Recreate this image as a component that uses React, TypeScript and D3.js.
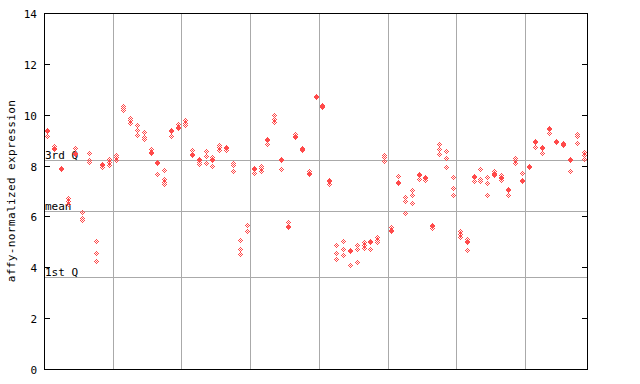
import React from "react";
import * as d3 from "d3";

// per-sample replicate values (affy-normalized expression)
const expression: number[][] = [
  [9.38, 9.35, 9.15], [8.76, 8.70, 8.66], [7.92, 7.88, 7.85], [6.73, 6.62, 6.50], [8.68, 8.50, 8.47],
  [6.16, 5.93, 5.85], [8.48, 8.22, 8.14], [5.02, 4.56, 4.24], [8.06, 8.02, 7.96], [8.27, 8.16, 8.04],
  [8.42, 8.32, 8.22], [10.36, 10.28, 10.19], [9.88, 9.79, 9.69], [9.60, 9.40, 9.21], [9.33, 9.14, 9.03],
  [8.64, 8.52, 8.49], [8.13, 8.10, 7.67], [7.81, 7.47, 7.37, 7.29], [9.39, 9.35, 9.15], [9.62, 9.50, 9.47],
  [9.79, 9.69, 9.58], [8.61, 8.44, 8.41], [8.26, 8.22, 8.14, 8.05], [8.58, 8.36, 8.10], [8.34, 8.26, 8.23, 7.97],
  [8.82, 8.72, 8.62], [8.74, 8.68, 8.62], [8.11, 8.01, 7.77], [5.06, 4.72, 4.52], [5.65, 5.41],
  [7.90, 7.86, 7.72], [7.98, 7.89, 7.80], [9.04, 9.00, 8.84], [9.98, 9.84, 9.70], [8.24, 8.20, 7.85],
  [5.78, 5.62, 5.58], [9.24, 9.15, 9.12], [8.70, 8.66, 8.62], [7.79, 7.72, 7.65], [10.74, 10.72, 10.70],
  [10.40, 10.33, 10.30], [7.42, 7.38, 7.29], [4.88, 4.56, 4.33], [5.02, 4.71, 4.47], [4.69, 4.66, 4.08],
  [4.88, 4.70, 4.21], [4.98, 4.89, 4.75], [5.02, 4.99, 4.71], [5.19, 5.09, 4.98], [8.43, 8.34, 8.17],
  [5.57, 5.47, 5.44], [7.58, 7.36, 7.32], [6.75, 6.59, 6.12], [7.03, 6.86, 6.52], [7.66, 7.62, 7.46],
  [7.56, 7.50, 7.43], [5.65, 5.62, 5.53], [8.85, 8.66, 8.45], [8.56, 8.30, 7.96], [7.54, 7.12, 6.83],
  [5.41, 5.31, 5.18], [5.12, 5.02, 4.99, 4.67], [7.58, 7.54, 7.41], [7.86, 7.48, 7.38], [7.54, 7.30, 6.83],
  [7.80, 7.71, 7.68, 7.62], [7.62, 7.56, 7.52, 7.43], [7.07, 7.03, 6.83], [8.30, 8.22, 8.11], [7.70, 7.43, 7.39],
  [7.98, 7.96, 7.94], [8.97, 8.93, 8.75], [8.74, 8.70, 8.48], [9.49, 9.45, 9.27], [8.97, 8.93, 8.91],
  [8.88, 8.84, 8.82], [8.25, 8.22, 7.77], [9.24, 9.15, 8.87], [8.53, 8.43, 8.26],
];

const groupBreaks = [10, 20, 30, 40, 50, 60, 70];
const yTicks = [0, 2, 4, 6, 8, 10, 12, 14];
const refLines = [
  { label: "3rd Q", value: 8.21 },
  { label: "mean", value: 6.2 },
  { label: "1st Q", value: 3.61 },
];
const yTitle = "affy-normalized expression";

const W = 640, H = 384;
const L = 44, R = 587, T = 13, B = 369;
const RED = "#ff4a4a";
const GRID = "#aaaaaa";
const FONT = "'DejaVu Sans Mono', monospace";

function diamondPath(cx: number, cy: number): string {
  let p = "";
  for (let dx = -2; dx <= 2; dx++) {
    for (let dy = -2; dy <= 2; dy++) {
      if (Math.abs(dx) + Math.abs(dy) <= 2 && (dx + dy) % 2 === 0) {
        p += `M${cx + dx},${cy + dy}h1v1h-1z`;
      }
    }
  }
  return p;
}

export default function App() {
  const n = expression.length;
  const x = d3.scaleLinear().domain([0, n]).range([L, R]);
  const y = d3.scaleLinear().domain([0, 14]).range([B, T]);

  let pts = "";
  expression.forEach((vals, i) => {
    const cx = Math.round(x(i + 0.5));
    vals.forEach((v) => {
      pts += diamondPath(cx, Math.round(y(v)));
    });
  });

  return (
    <svg
      width={W}
      height={H}
      style={{ position: "absolute", left: 0, top: 0, background: "#fff" }}
      shapeRendering="crispEdges"
    >
      <rect x={0} y={0} width={W} height={H} fill="#fff" />
      {groupBreaks.map((g) => {
        const gx = Math.round(x(g)) + 0.5;
        return <line key={g} x1={gx} x2={gx} y1={T} y2={B} stroke={GRID} strokeWidth={1} />;
      })}
      {refLines.map((r) => {
        const ry = Math.round(y(r.value)) + 0.5;
        return (
          <g key={r.label}>
            <line x1={L} x2={R} y1={ry} y2={ry} stroke={GRID} strokeWidth={1} />
            <text x={L + 1} y={ry - 2} fontFamily={FONT} fontSize={11} fill="#000">
              {r.label}
            </text>
          </g>
        );
      })}
      <path d={pts} fill={RED} />
      <rect x={L + 0.5} y={T + 0.5} width={R - L} height={B - T} fill="none" stroke="#000" strokeWidth={1} />
      {yTicks.map((t) => {
        const ty = Math.round(y(t)) + 0.5;
        return (
          <g key={t}>
            <line x1={L} x2={L + 6} y1={ty} y2={ty} stroke="#000" />
            <line x1={R - 5} x2={R + 1} y1={ty} y2={ty} stroke="#000" />
            <text x={37} y={ty + 4} textAnchor="end" fontFamily={FONT} fontSize={11} fill="#000">
              {t}
            </text>
          </g>
        );
      })}
      <text
        transform={`translate(15,${(T + B) / 2}) rotate(-90)`}
        textAnchor="middle"
        fontFamily={FONT}
        fontSize={11}
        letterSpacing={0.4}
        fill="#000"
      >
        {yTitle}
      </text>
    </svg>
  );
}
